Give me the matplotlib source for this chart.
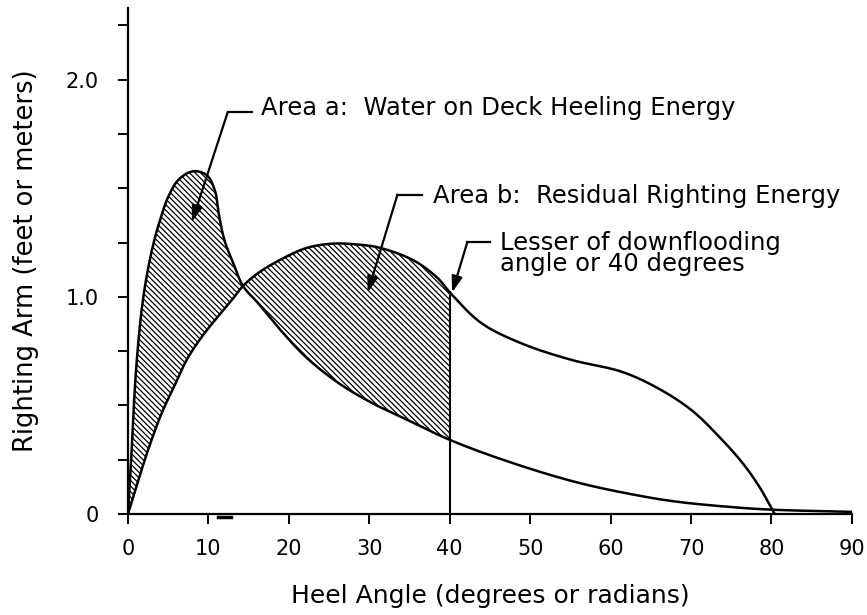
import numpy as np
import matplotlib
matplotlib.use("Agg")
import matplotlib.pyplot as plt

# heel angle (deg) and righting arm
gz_x = [0, 1.3, 2.5, 4.2, 5.9, 7.3, 9.2, 11.2, 13.1, 14.3, 16.2, 18.9, 22.2,
        25.5, 28.8, 31.3, 35.4, 38.4, 40.1, 43.9, 48.9, 55.1, 61.3, 65.5, 70.0,
        73.9, 76.4, 78.5, 80.4]
gz_y = [0, 0.157, 0.295, 0.465, 0.60, 0.71, 0.817, 0.91, 0.994, 1.05, 1.11,
        1.17, 1.225, 1.245, 1.24, 1.226, 1.17, 1.09, 1.017, 0.88, 0.786, 0.71,
        0.656, 0.587, 0.48, 0.34, 0.235, 0.125, 0.0]

# water on deck heeling arm
hz_x = [0, 0.4, 0.7, 1.1, 1.7, 2.3, 3.2, 4.0, 5.0, 6.3, 8.1, 9.8, 10.8, 11.3,
        12.0, 13.1, 14.3, 16.2, 18.9, 22.2, 26.3, 30.4, 33.8, 40.1, 47.8, 56.1,
        64.5, 68.6, 75, 80, 90]
hz_y = [0, 0.25, 0.48, 0.71, 0.94, 1.09, 1.25, 1.355, 1.46, 1.54, 1.578, 1.56,
        1.49, 1.38, 1.26, 1.155, 1.05, 0.97, 0.85, 0.72, 0.60, 0.51, 0.45, 0.34,
        0.235, 0.143, 0.078, 0.055, 0.032, 0.02, 0.01]

limit_angle = 40
xticks = [0, 10, 20, 30, 40, 50, 60, 70, 80, 90]
yticks = [0, 0.25, 0.5, 0.75, 1.0, 1.25, 1.5, 1.75, 2.0, 2.25]
ylabels = ["0", "", "", "", "1.0", "", "", "", "2.0", ""]


def smooth(x, y, n=24, sx=8.05, sy=217.0):
    # centripetal Catmull-Rom through the read points (distances in pixel-ish units)
    p = np.column_stack([np.asarray(x, float) * sx, np.asarray(y, float) * sy])
    p = np.vstack([2 * p[0] - p[1], p, 2 * p[-1] - p[-2]])
    out = []
    for i in range(1, len(p) - 2):
        P0, P1, P2, P3 = p[i - 1], p[i], p[i + 1], p[i + 2]
        t0 = 0.0
        t1 = t0 + np.linalg.norm(P1 - P0) ** 0.5
        t2 = t1 + np.linalg.norm(P2 - P1) ** 0.5
        t3 = t2 + np.linalg.norm(P3 - P2) ** 0.5
        t = np.linspace(t1, t2, n, endpoint=False)[:, None]
        A1 = (t1 - t) / (t1 - t0) * P0 + (t - t0) / (t1 - t0) * P1
        A2 = (t2 - t) / (t2 - t1) * P1 + (t - t1) / (t2 - t1) * P2
        A3 = (t3 - t) / (t3 - t2) * P2 + (t - t2) / (t3 - t2) * P3
        B1 = (t2 - t) / (t2 - t0) * A1 + (t - t0) / (t2 - t0) * A2
        B2 = (t3 - t) / (t3 - t1) * A2 + (t - t1) / (t3 - t1) * A3
        C = (t2 - t) / (t2 - t1) * B1 + (t - t1) / (t2 - t1) * B2
        out.append(C)
    out.append(p[-2][None, :])
    out = np.vstack(out)
    return out[:, 0] / sx, out[:, 1] / sy


plt.rcParams['font.family'] = 'DejaVu Sans'
plt.rcParams['hatch.linewidth'] = 0.9

fig = plt.figure(figsize=(8.67, 6.15), dpi=100)
ax = fig.add_axes([0.1476, 0.1642, 0.835, 0.8228])

gsx, gsy = smooth(gz_x, gz_y)
hsx, hsy = smooth(hz_x, hz_y)

xs = np.linspace(0, limit_angle, 1200)
gz = np.interp(xs, gsx, gsy)
hz = np.interp(xs, hsx, hsy)

# area a: heeling exceeds righting, area b: righting exceeds heeling up to 40 deg
ax.fill_between(xs, gz, hz, where=(hz >= gz), interpolate=True,
                facecolor='none', edgecolor='black', hatch='\\\\\\\\\\\\', linewidth=0)
ax.fill_between(xs, gz, hz, where=(gz >= hz), interpolate=True,
                facecolor='none', edgecolor='black', hatch='\\\\\\\\\\\\', linewidth=0)

ax.plot(gsx, gsy, color='black', lw=1.8)
ax.plot(hsx, hsy, color='black', lw=1.8)
ax.plot([80.4, 90], [0, 0], color='0.5', lw=1.2)
ax.plot([limit_angle, limit_angle], [0, np.interp(limit_angle, gsx, gsy)],
        color='black', lw=1.5)

ax.set_xlim(0, 90)
ax.set_ylim(0, 2.33)
for s in ['top', 'right']:
    ax.spines[s].set_visible(False)
for s in ['left', 'bottom']:
    ax.spines[s].set_linewidth(1.6)
ax.set_xticks(xticks)
ax.set_yticks(yticks)
ax.set_yticklabels(ylabels)
ax.tick_params(direction='out', length=7, width=1.4, labelsize=15)
ax.tick_params(axis='x', pad=11)
ax.tick_params(axis='y', pad=14)

ax.set_xlabel('Heel Angle (degrees or radians)', fontsize=18, labelpad=18)
ax.set_ylabel('Righting Arm (feet or meters)', fontsize=18.5, labelpad=19)

# small stray dash under the axis near 12 degrees
ax.plot([11.2, 12.8], [-0.012, -0.012], color='black', lw=2.5, clip_on=False)


# leader lines with arrows
def leader(tip, corner, end, text, tx, ty):
    ax.annotate('', xy=tip, xytext=corner,
                arrowprops=dict(arrowstyle='-|>,head_length=0.6,head_width=0.2',
                                color='black', lw=1.6,
                                mutation_scale=16, shrinkA=0, shrinkB=0))
    ax.plot([corner[0], end[0]], [corner[1], end[1]], color='black', lw=1.6)
    ax.text(tx, ty, text, fontsize=17.5, va='center', ha='left', linespacing=0.88)


leader((7.95, 1.345), (12.4, 1.85), (15.4, 1.85),
       'Area a:  Water on Deck Heeling Energy', 16.6, 1.87)
leader((29.8, 1.02), (33.5, 1.47), (36.6, 1.47),
       'Area b:  Residual Righting Energy', 37.9, 1.465)
leader((40.3, 1.02), (42.2, 1.253), (45.0, 1.253),
       'Lesser of downflooding\nangle or 40 degrees', 46.2, 1.20)

fig.savefig('out.png', dpi=100)
